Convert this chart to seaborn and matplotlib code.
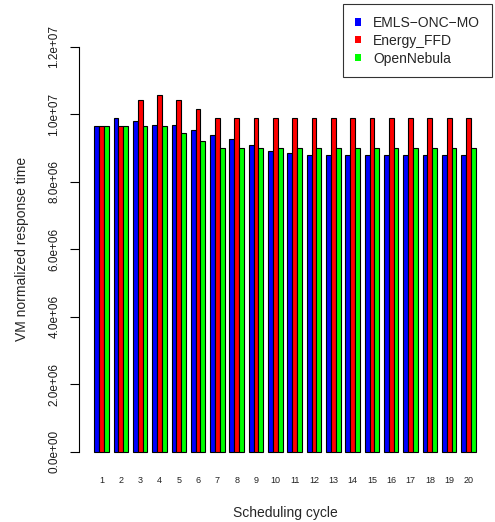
import matplotlib
matplotlib.use("Agg")
import matplotlib.pyplot as plt
import seaborn as sns
import pandas as pd
from matplotlib.patches import Patch

cycles = [str(i) for i in range(1, 21)]
series_names = ["EMLS\u2212ONC\u2212MO", "Energy_FFD", "OpenNebula"]
emls = [9.64e6, 9.90e6, 9.81e6, 9.68e6, 9.68e6, 9.52e6, 9.39e6, 9.28e6, 9.08e6, 8.90e6,
        8.85e6, 8.78e6, 8.78e6, 8.78e6, 8.78e6, 8.78e6, 8.78e6, 8.78e6, 8.78e6, 8.78e6]
ffd = [9.64e6, 9.64e6, 10.41e6, 10.58e6, 10.41e6, 10.15e6, 9.90e6, 9.90e6, 9.90e6, 9.90e6,
       9.90e6, 9.90e6, 9.90e6, 9.90e6, 9.90e6, 9.90e6, 9.90e6, 9.90e6, 9.90e6, 9.90e6]
onebula = [9.64e6, 9.64e6, 9.64e6, 9.64e6, 9.44e6, 9.21e6, 9.00e6, 9.00e6, 9.00e6, 9.00e6,
           9.00e6, 9.00e6, 9.00e6, 9.00e6, 9.00e6, 9.00e6, 9.00e6, 9.00e6, 9.00e6, 9.00e6]
yticks = [0, 2e6, 4e6, 6e6, 8e6, 1e7, 1.2e7]
ytick_labels = ["0.0e+00", "2.0e+06", "4.0e+06", "6.0e+06", "8.0e+06", "1.0e+07", "1.2e+07"]
colors = ["#0000FF", "#FF0000", "#00FF00"]

df = pd.DataFrame({
    "cycle": cycles * 3,
    "series": [series_names[0]] * 20 + [series_names[1]] * 20 + [series_names[2]] * 20,
    "value": emls + ffd + onebula,
})

sns.set_style("white")
plt.rcParams["font.family"] = ["Liberation Sans", "DejaVu Sans"]

W, H = 495, 522
fig = plt.figure(figsize=(W / 100, H / 100), dpi=100)
left, right, top, bottom = 79, 491, 30.5, 468
ax = fig.add_axes([left / W, 1 - bottom / H, (right - left) / W, (bottom - top) / H])

sns.barplot(data=df, x="cycle", y="value", hue="series", palette=colors,
            width=0.75, edgecolor="black", linewidth=0.8, saturation=1,
            errorbar=None, ax=ax, legend=False)

ax.set_xlim(-0.375 - 0.79, 19.375 + 0.79)
ax.set_ylim(-0.48e6, 1.248e7)
for s in ["top", "right", "bottom"]:
    ax.spines[s].set_visible(False)
ax.spines["left"].set_bounds(0, 1.2e7)
ax.spines["left"].set_color("black")
ax.spines["left"].set_linewidth(0.8)

ax.set_yticks(yticks)
ax.set_yticklabels(ytick_labels, rotation=90, va="center", fontsize=8.5, color="#1a1a1a")
ax.tick_params(axis="y", left=True, length=6.5, width=0.8, color="black", pad=7)
ax.tick_params(axis="x", bottom=False, labelsize=6.5, pad=2.5, labelcolor="#222222")
ax.set_xlabel("Scheduling cycle", fontsize=10, labelpad=15)
ax.set_ylabel("VM normalized response time", fontsize=10, labelpad=14)
ax.grid(False)

handles = [Patch(facecolor=c, edgecolor="none") for c in colors]
leg = fig.legend(handles, series_names, loc="upper right",
                 bbox_to_anchor=(492 / W, 1 - 4 / H), fontsize=10,
                 frameon=True, fancybox=False, edgecolor="black",
                 handlelength=0.45, handleheight=0.45, handletextpad=0.85,
                 borderpad=0.85, labelspacing=0.28, borderaxespad=0)
leg.get_frame().set_linewidth(0.8)

fig.savefig("out.png", dpi=100)
